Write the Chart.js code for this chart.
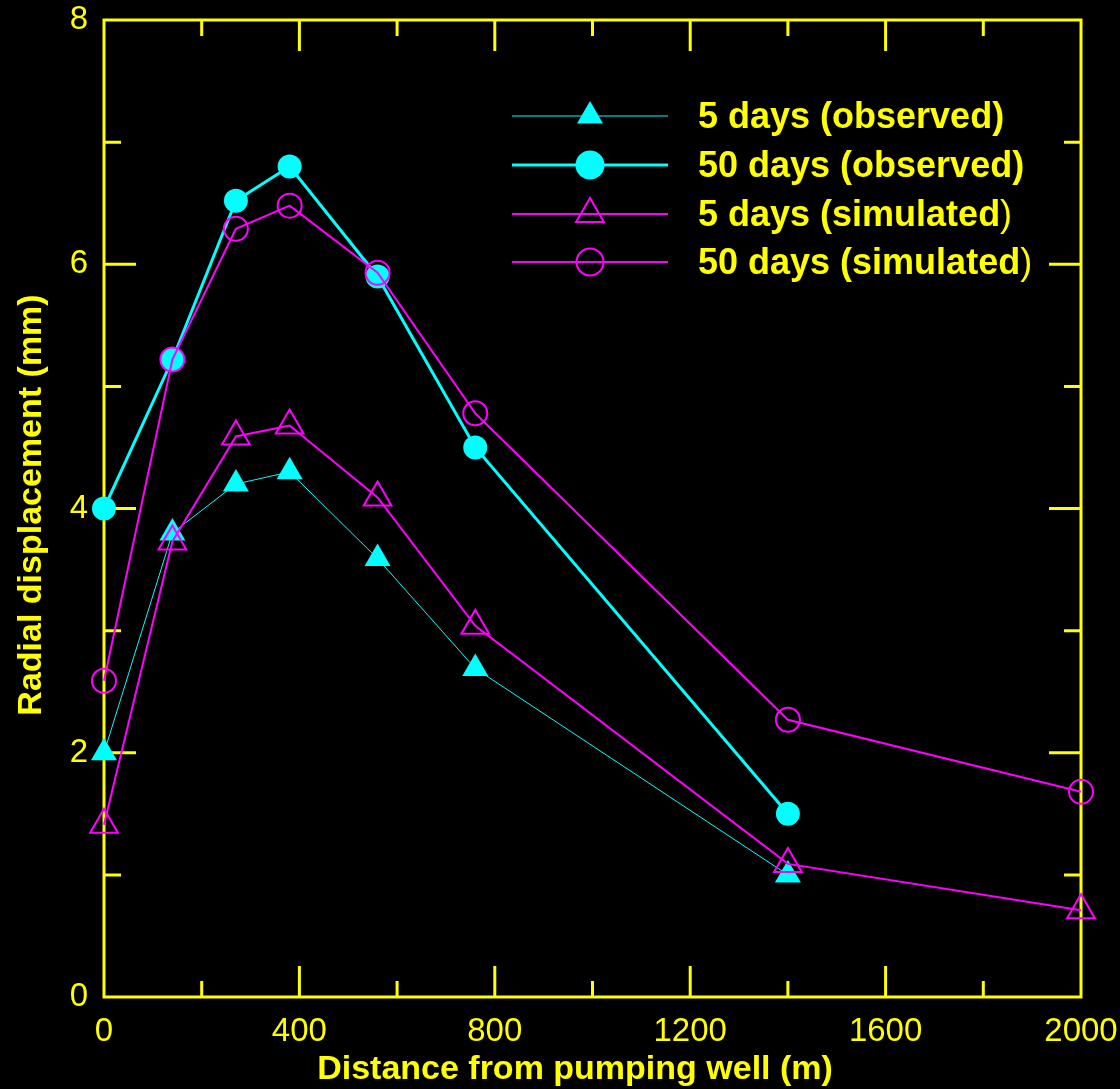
<!DOCTYPE html>
<html><head><meta charset="utf-8">
<script src="https://cdn.jsdelivr.net/npm/chart.js@4.4.1/dist/chart.umd.min.js"></script>
<style>html,body{margin:0;padding:0;background:#000;overflow:hidden}canvas{display:block}</style>
</head><body>
<canvas id="c" width="1120" height="1089"></canvas>
<script>
// ---- data ----
const distObs = [0, 140, 270, 380, 560, 760, 1400];
const distSim = [0, 140, 270, 380, 560, 760, 1400, 2000];
const obs5  = [2.00, 3.80, 4.20, 4.30, 3.59, 2.69, 1.00];
const obs50 = [4.00, 5.22, 6.52, 6.80, 5.90, 4.50, 1.50];
const sim5  = [1.41, 3.73, 4.59, 4.68, 4.09, 3.04, 1.09, 0.71];
const sim50 = [2.59, 5.22, 6.29, 6.48, 5.93, 4.78, 2.27, 1.68];
const seriesNames = ['5 days (observed)', '50 days (observed)', '5 days (simulated)', '50 days (simulated)'];
const xMajor = [0, 400, 800, 1200, 1600, 2000];
const xMinor = [200, 600, 1000, 1400, 1800];
const yMajor = [0, 2, 4, 6, 8];
const yMinor = [1, 3, 5, 7];
const xTitle = 'Distance from pumping well (m)';
const yTitle = 'Radial displacement (mm)';

const YEL = '#FFFF00', CYAN = '#00FFFF', MAG = '#FF00FF';
const FAM = '"Liberation Sans", Arial, Helvetica, sans-serif';

const pts = (xs, ys) => xs.map((x, i) => ({x: x, y: ys[i]}));

const dsObs5 = {label: seriesNames[0], data: pts(distObs, obs5), borderColor: CYAN, backgroundColor: CYAN,
  borderWidth: 1, pointStyle: 'triangle', pointRadius: 15, pointBorderWidth: 0, pointBackgroundColor: CYAN, pointBorderColor: CYAN};
const dsObs50 = {label: seriesNames[1], data: pts(distObs, obs50), borderColor: CYAN, backgroundColor: CYAN,
  borderWidth: 3, pointStyle: 'circle', pointRadius: 12, pointBorderWidth: 0, pointBackgroundColor: CYAN, pointBorderColor: CYAN};
const dsSim5 = {label: seriesNames[2], data: pts(distSim, sim5), borderColor: MAG, backgroundColor: 'rgba(0,0,0,0)',
  borderWidth: 2, pointStyle: 'triangle', pointRadius: 16, pointBorderWidth: 2, pointBackgroundColor: 'rgba(0,0,0,0)', pointBorderColor: MAG};
const dsSim50 = {label: seriesNames[3], data: pts(distSim, sim50), borderColor: MAG, backgroundColor: 'rgba(0,0,0,0)',
  borderWidth: 2, pointStyle: 'circle', pointRadius: 12, pointBorderWidth: 2, pointBackgroundColor: 'rgba(0,0,0,0)', pointBorderColor: MAG};

// legend entries (style taken from datasets)
const legendEntries = [
  {ds: dsObs5, r: 15, lw: 1, fill: true},
  {ds: dsObs50, r: 14.5, lw: 3, fill: true},
  {ds: dsSim5, r: 16, lw: 2, fill: false},
  {ds: dsSim50, r: 13.5, lw: 2, fill: false}
];

function marker(ctx, style, x, y, r, fill, color, bw) {
  ctx.beginPath();
  if (style === 'triangle') {
    for (let k = 0; k < 3; k++) {
      const a = k * 2 * Math.PI / 3;
      const px = x + Math.sin(a) * r, py = y - Math.cos(a) * r;
      k === 0 ? ctx.moveTo(px, py) : ctx.lineTo(px, py);
    }
    ctx.closePath();
  } else {
    ctx.arc(x, y, r, 0, Math.PI * 2);
  }
  if (fill) { ctx.fillStyle = color; ctx.fill(); }
  else { ctx.strokeStyle = color; ctx.lineWidth = bw; ctx.stroke(); }
}

const framePlugin = {
  id: 'frame',
  beforeDatasetsDraw(chart) {
    const {ctx, chartArea: a, scales: {x, y}} = chart;
    ctx.save();
    ctx.strokeStyle = YEL; ctx.lineWidth = 3; ctx.lineCap = 'butt';
    ctx.strokeRect(a.left, a.top, a.right - a.left, a.bottom - a.top);
    ctx.beginPath();
    const xt = (v, len) => { const p = x.getPixelForValue(v);
      ctx.moveTo(p, a.bottom); ctx.lineTo(p, a.bottom - len);
      ctx.moveTo(p, a.top); ctx.lineTo(p, a.top + len); };
    const yt = (v, len) => { const p = y.getPixelForValue(v);
      ctx.moveTo(a.left, p); ctx.lineTo(a.left + len, p);
      ctx.moveTo(a.right, p); ctx.lineTo(a.right - len, p); };
    xMajor.forEach(v => { if (v > x.min && v < x.max) xt(v, 31); });
    xMinor.forEach(v => xt(v, 16));
    yMajor.forEach(v => { if (v > y.min && v < y.max) yt(v, 32); });
    yMinor.forEach(v => yt(v, 17));
    ctx.stroke();
    ctx.restore();
  },
  afterDraw(chart) {
    const {ctx} = chart;
    ctx.save();
    // axis titles
    ctx.fillStyle = YEL;
    ctx.font = 'bold 34px ' + FAM;
    ctx.textAlign = 'center'; ctx.textBaseline = 'alphabetic';
    ctx.fillText(xTitle, 575, 1079);
    ctx.save();
    ctx.translate(41, 505);
    ctx.rotate(-Math.PI / 2);
    ctx.fillText(yTitle, 0, 0);
    ctx.restore();
    // legend
    const rows = [116, 165, 214, 262];
    const x0 = 512, x1 = 668, xm = 590, xt = 698;
    legendEntries.forEach((e, i) => {
      const yy = rows[i];
      ctx.beginPath(); ctx.strokeStyle = e.ds.borderColor; ctx.lineWidth = e.lw;
      ctx.moveTo(x0, yy); ctx.lineTo(x1, yy); ctx.stroke();
      marker(ctx, e.ds.pointStyle, xm, yy, e.r, e.fill, e.ds.borderColor, 2);
      ctx.fillStyle = YEL; ctx.textAlign = 'left'; ctx.textBaseline = 'alphabetic';
      const name = e.ds.label;
      if (name.indexOf('simulated') >= 0) {
        const main = name.slice(0, -1);
        ctx.font = 'bold 36px ' + FAM;
        ctx.fillText(main, xt, yy + 12);
        const w = ctx.measureText(main).width;
        ctx.font = '36px ' + FAM;
        ctx.fillText(')', xt + w, yy + 12);
      } else {
        ctx.font = 'bold 36px ' + FAM;
        ctx.fillText(name, xt, yy + 12);
      }
    });
    ctx.restore();
  }
};

new Chart(document.getElementById('c'), {
  type: 'line',
  data: {datasets: [dsSim50, dsSim5, dsObs50, dsObs5].map(d => Object.assign({clip: false, tension: 0, fill: false}, d))},
  options: {
    responsive: false,
    animation: false,
    events: [],
    layout: {padding: {top: 20, right: 39, left: 0, bottom: 0}},
    plugins: {legend: {display: false}, tooltip: {enabled: false}},
    scales: {
      x: {
        type: 'linear', min: 0, max: 2000, position: 'bottom',
        grid: {display: false, drawTicks: false},
        border: {display: false},
        afterBuildTicks: s => { s.ticks = xMajor.map(v => ({value: v})); },
        afterFit: s => { s.height = 92; s.paddingLeft = 0; s.paddingRight = 0; },
        ticks: {color: YEL, font: {family: FAM, size: 33, lineHeight: 1.2}, padding: 15, maxRotation: 0, autoSkip: false,
          callback: v => String(v)},
        title: {display: false, text: xTitle}
      },
      y: {
        type: 'linear', min: 0, max: 8, position: 'left',
        grid: {display: false, drawTicks: false},
        border: {display: false},
        afterBuildTicks: s => { s.ticks = yMajor.map(v => ({value: v})); },
        afterFit: s => { s.width = 104; s.paddingTop = 0; s.paddingBottom = 0; },
        ticks: {color: YEL, font: {family: FAM, size: 33, lineHeight: 1.2}, padding: 16, autoSkip: false,
          callback: v => String(v)},
        title: {display: false, text: yTitle}
      }
    }
  },
  plugins: [framePlugin]
});
</script>
</body></html>
